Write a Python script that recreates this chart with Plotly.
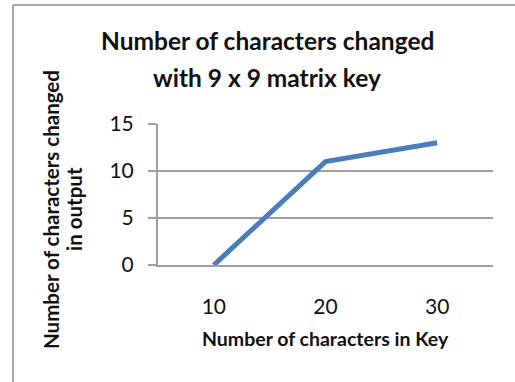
import plotly.graph_objects as go

categories = ["10", "20", "30"]
values = [0, 11, 13]
y_ticks = [0, 5, 10, 15]

title_lines = ["Number of characters changed", "with 9 x 9 matrix key"]
x_title = "Number of characters in Key"
y_title_lines = ["Number of characters changed", "in output"]

W, H = 515, 382
L, R, T, B = 158, 22, 124, 117
pw, ph = W - L - R, H - T - B

def px_x(x):
    return (x - L) / pw

def px_y(y):
    return (H - B - y) / ph

FONT = "Lato"
GRID = "#9e9e9e"

fig = go.Figure()
fig.add_trace(go.Scatter(
    x=categories, y=values, mode="lines",
    line=dict(color="#4a7ebb", width=5),
    showlegend=False, hoverinfo="skip",
))

annotations = []
for i, line in enumerate(title_lines):
    annotations.append(dict(
        text="<b>" + line + "</b>", xref="paper", yref="paper",
        x=px_x(267), y=px_y(41 + 36 * i), xanchor="center", yanchor="middle",
        showarrow=False, font=dict(size=24.5, family=FONT, color="#111")))
annotations.append(dict(
    text="<b>" + x_title + "</b>", xref="paper", yref="paper",
    x=px_x(325), y=px_y(338), xanchor="center", yanchor="middle",
    showarrow=False, font=dict(size=19.5, family=FONT, color="#111")))
for i, line in enumerate(y_title_lines):
    annotations.append(dict(
        text="<b>" + line + "</b>", xref="paper", yref="paper",
        x=px_x(51 + 23 * i), y=px_y(209), xanchor="center", yanchor="middle",
        textangle=-90, showarrow=False,
        font=dict(size=20.5, family=FONT, color="#111")))

fig.update_layout(
    width=W, height=H,
    margin=dict(l=L, r=R, t=T, b=B),
    paper_bgcolor="white", plot_bgcolor="white",
    font=dict(family=FONT, color="#111111"),
    xaxis=dict(
        type="category", range=[-0.5, 2.5],
        showgrid=False, showline=True, linecolor=GRID, linewidth=2,
        ticks="", tickfont=dict(size=21, family=FONT, color="#111"),
        ticklabelstandoff=22, zeroline=False, fixedrange=True,
    ),
    yaxis=dict(
        range=[0, 15], tickvals=y_ticks,
        showgrid=True, gridcolor=GRID, gridwidth=2,
        showline=True, linecolor=GRID, linewidth=2,
        ticks="outside", ticklen=8, tickcolor=GRID, tickwidth=2,
        tickfont=dict(size=21, family=FONT, color="#111"),
        ticklabelstandoff=10, zeroline=False, fixedrange=True,
    ),
    shapes=[
        dict(type="line", xref="paper", yref="paper",
             x0=px_x(13), x1=px_x(13), y0=px_y(5), y1=px_y(400),
             line=dict(color="#8a8a8a", width=1.5)),
        dict(type="line", xref="paper", yref="paper",
             x0=px_x(13), x1=px_x(530), y0=px_y(5), y1=px_y(5),
             line=dict(color="#8a8a8a", width=1.5)),
    ],
    annotations=annotations,
)

fig.write_html("out.html")
